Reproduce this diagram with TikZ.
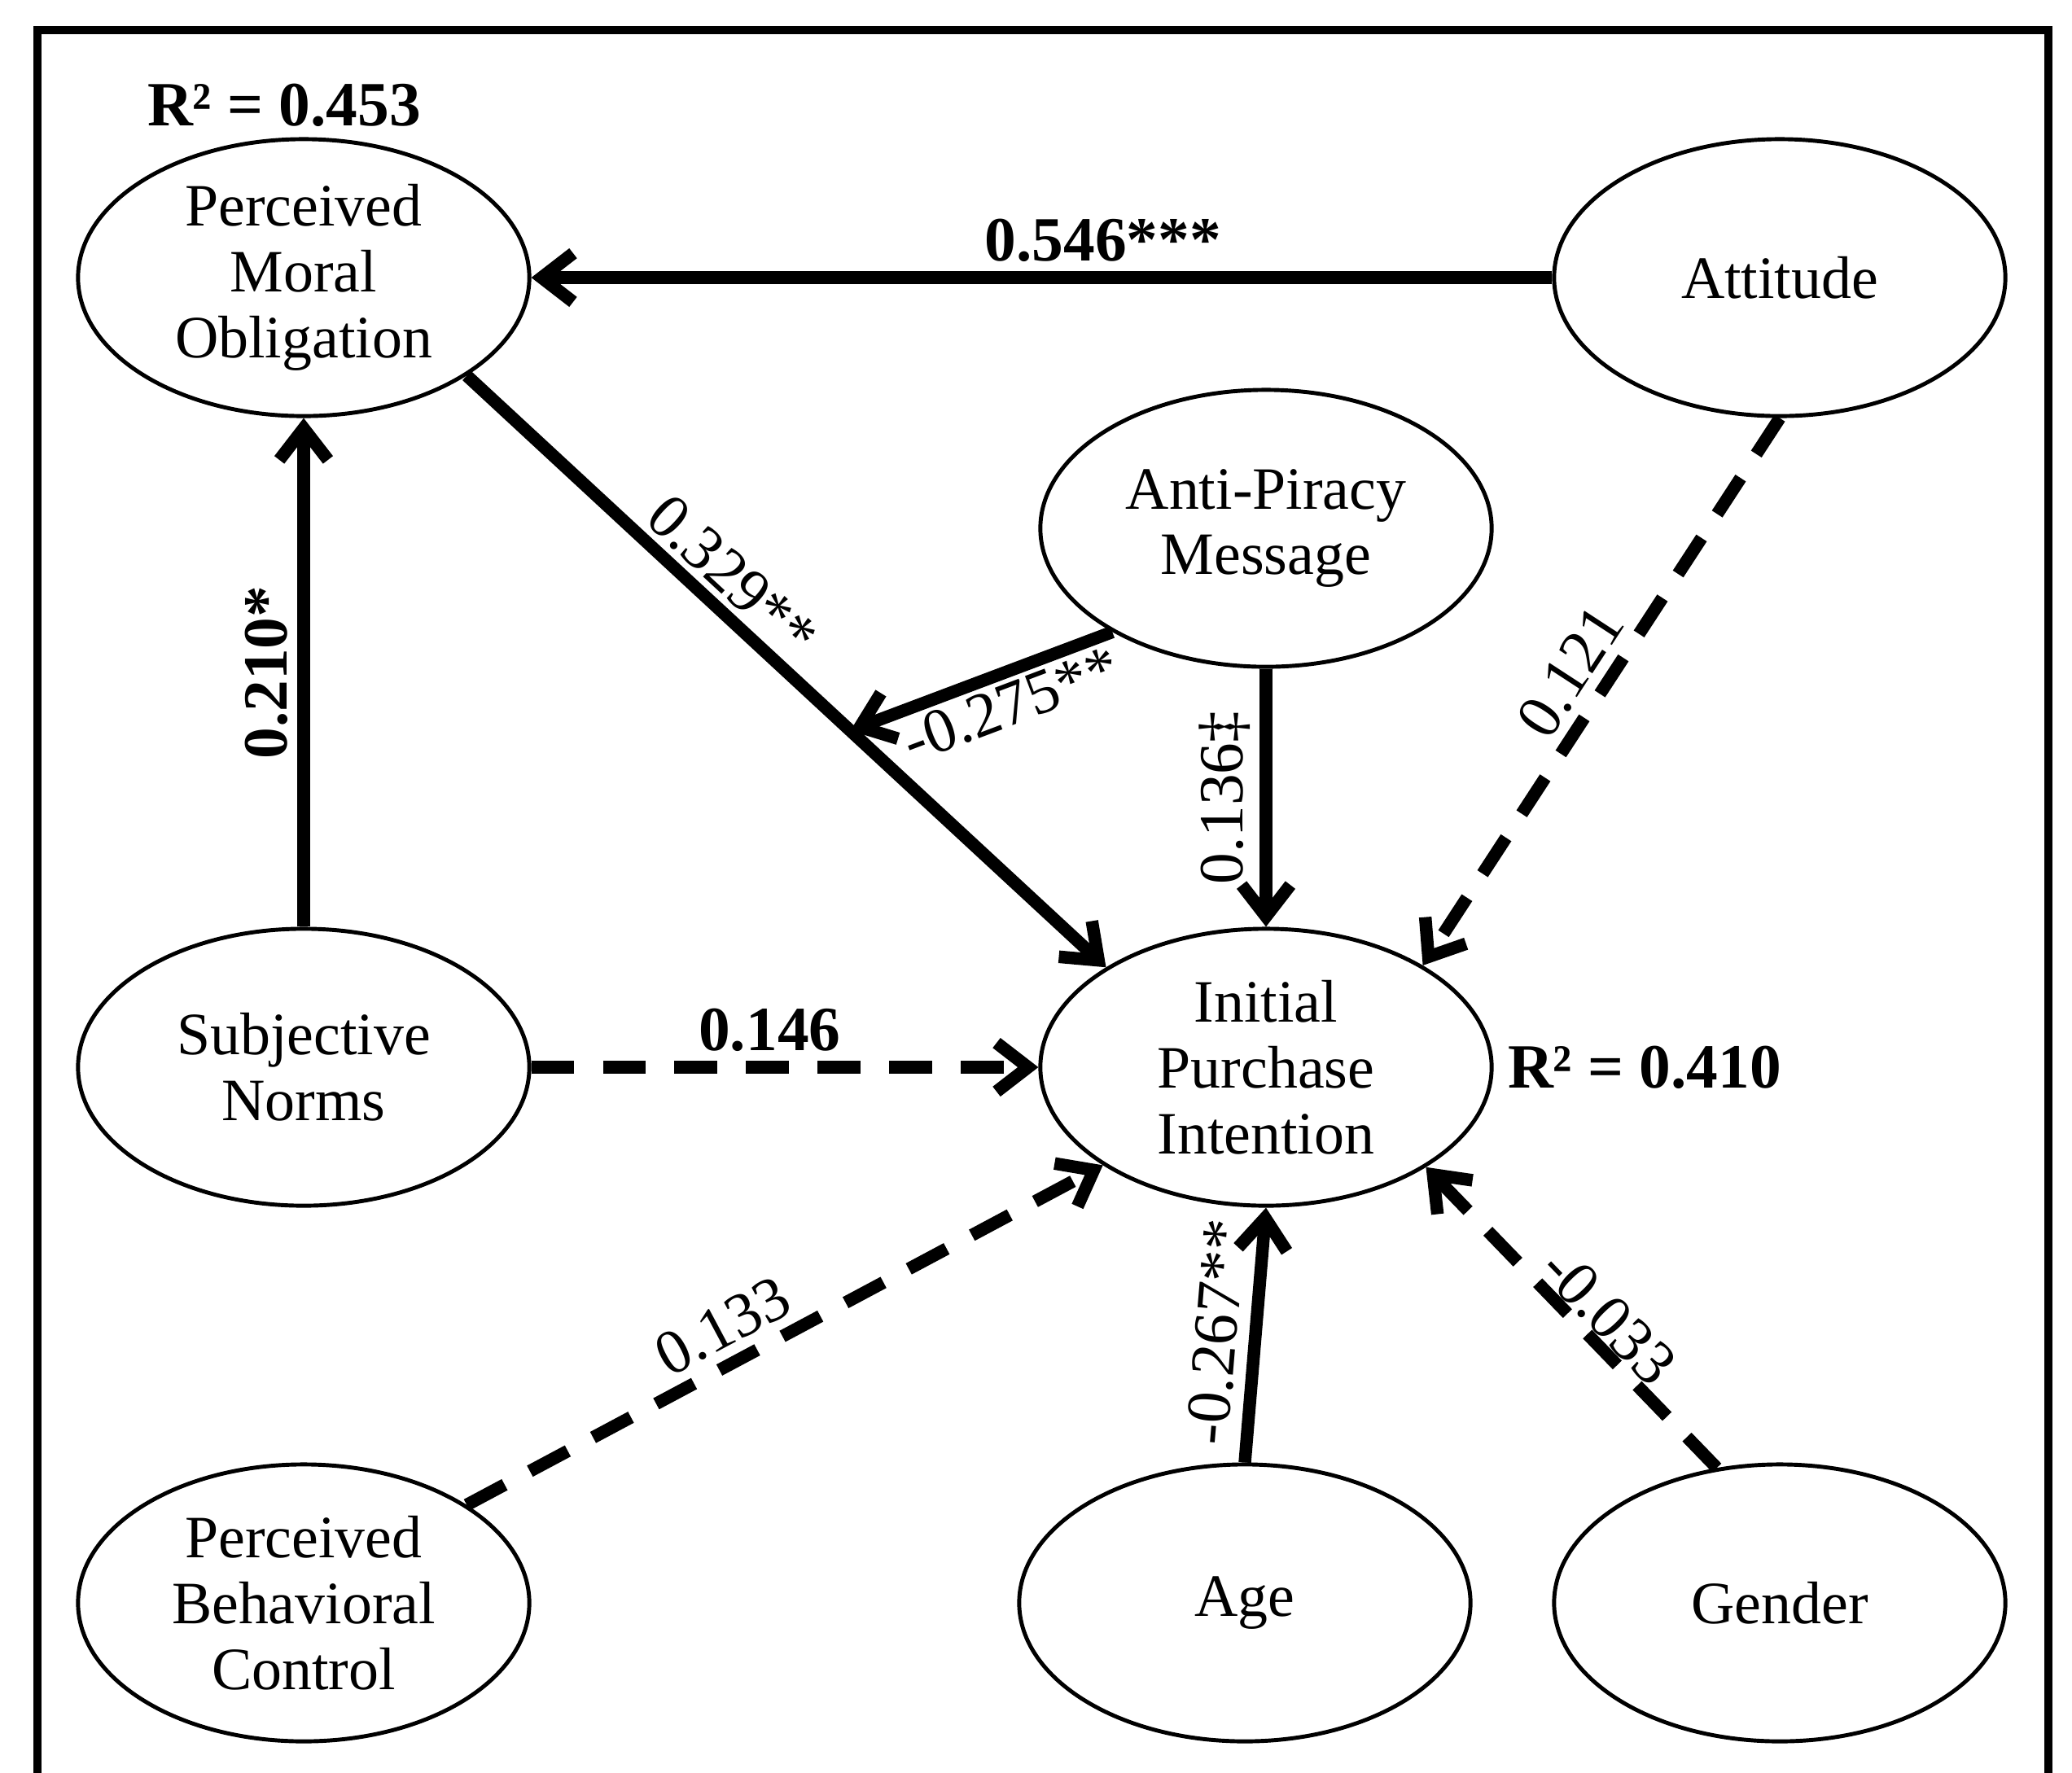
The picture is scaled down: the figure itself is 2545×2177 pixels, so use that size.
\documentclass[tikz,border=0pt]{standalone}
\usepackage{fontspec}
\setmainfont{Liberation Serif}
\usetikzlibrary{shapes.geometric,arrows.meta,positioning}

\begin{document}
\begin{tikzpicture}[
    x=0.01cm, y=-0.01cm,
    construct/.style={ellipse, draw, line width=1.4pt, minimum width=5.54cm, minimum height=3.4cm, inner sep=0pt, align=center, font=\fontsize{21}{23}\selectfont},
    effect/.style={line width=4.4pt, -{Straight Barb[length=11pt,width=17pt]}},
    weak/.style={effect, dash pattern=on 15pt off 10pt},
    coef/.style={font=\fontsize{22}{26}\selectfont},
    bcoef/.style={font=\fontsize{22}{26}\selectfont\bfseries}
]
    \useasboundingbox (0,0) rectangle (2545,2177);
    \draw[line width=3pt] (46,37) rectangle (2516,2300);

    % Constructs
    \node[construct] (pmo) at (373,341) {Perceived\\Moral\\Obligation};
    \node[construct] (att) at (2186,341) {Attitude};
    \node[construct] (apm) at (1555,649) {Anti-Piracy\\Message};
    \node[construct] (sn) at (373,1311) {Subjective\\Norms};
    \node[construct] (ipi) at (1555,1311) {Initial\\Purchase\\Intention};
    \node[construct] (pbc) at (373,1969) {Perceived\\Behavioral\\Control};
    \node[construct] (age) at (1529,1969) {Age};
    \node[construct] (gender) at (2186,1969) {Gender};

    % R squared
    \node[bcoef, above=0pt of pmo, xshift=-0.24cm] (r2pmo) {R² = 0.453};
    \node[bcoef, right=0.05cm of ipi] (r2ipi) {R² = 0.410};

    % Paths
    \draw[effect] (att) -- node[bcoef, above, pos=0.44] {0.546***} (pmo);
    \draw[effect] (pmo.-31) -- node[coef, sloped, above, pos=0.38, inner sep=2pt] {0.329**}
        coordinate[pos=0.6] (modpt) (ipi.148);
    \draw[effect] (apm.214) -- node[coef, sloped, below, pos=0.43, inner sep=1.5pt] {-0.275**} (modpt);
    \draw[effect] (apm) -- node[coef, rotate=90, anchor=south, midway] {0.136‡} (ipi);
    \draw[weak] (att.south) -- node[coef, sloped, above, midway] {0.121} (ipi.33);
    \draw[effect] (sn) -- node[bcoef, sloped, above, midway] {0.210*} (pmo);
    \draw[weak] (sn) -- node[bcoef, above, pos=0.47] {0.146} (ipi);
    \draw[weak] (pbc.31) -- node[coef, sloped, above, pos=0.43] {0.133} (ipi.211);
    \draw[effect] (age.north) -- node[coef, sloped, above, inner sep=4pt] {-0.267**} (ipi.south);
    \draw[weak] (gender.115) -- node[coef, sloped, above, pos=0.44, inner sep=0pt] {-0.033} (ipi.-32);
\end{tikzpicture}
\end{document}
